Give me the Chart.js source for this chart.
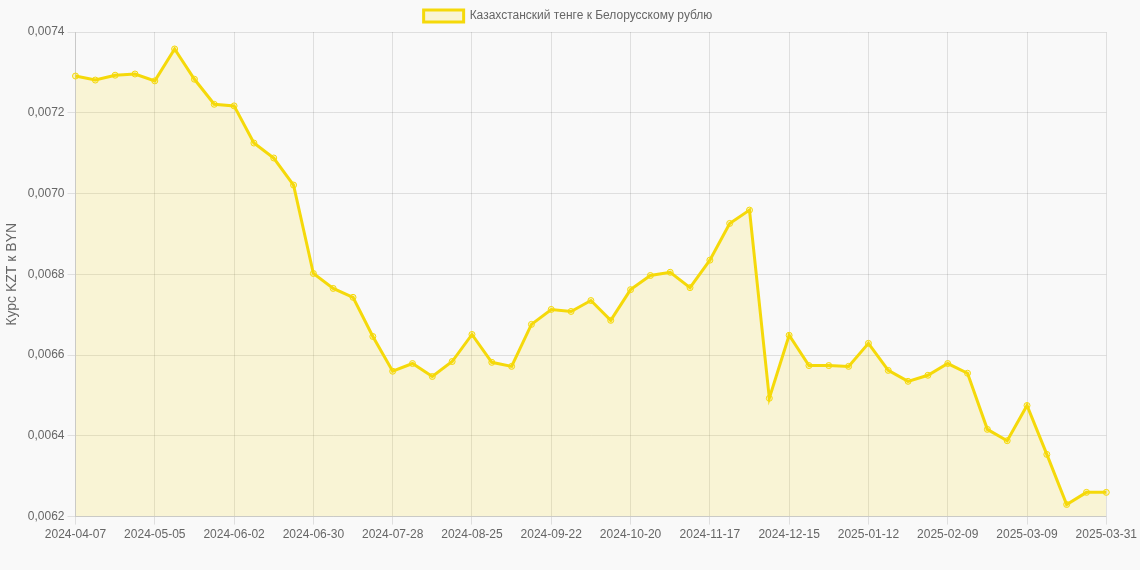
<!DOCTYPE html>
<html><head><meta charset="utf-8">
<script src="https://cdn.jsdelivr.net/npm/chart.js@4"></script>
<style>html,body{margin:0;background:#f9f9f9;}#w{width:1140px;height:570px;}</style>
</head><body><div id="w"><canvas id="c"></canvas></div>
<script>
const labels = ["2024-04-07","2024-04-14","2024-04-21","2024-04-28","2024-05-05","2024-05-12","2024-05-19","2024-05-26","2024-06-02","2024-06-09","2024-06-16","2024-06-23","2024-06-30","2024-07-07","2024-07-14","2024-07-21","2024-07-28","2024-08-04","2024-08-11","2024-08-18","2024-08-25","2024-09-01","2024-09-08","2024-09-15","2024-09-22","2024-09-29","2024-10-06","2024-10-13","2024-10-20","2024-10-27","2024-11-03","2024-11-10","2024-11-17","2024-11-24","2024-12-01","2024-12-08","2024-12-15","2024-12-22","2024-12-29","2025-01-05","2025-01-12","2025-01-19","2025-01-26","2025-02-02","2025-02-09","2025-02-16","2025-02-23","2025-03-02","2025-03-09","2025-03-16","2025-03-23","2025-03-30","2025-03-31"];
const rates = [0.007291,0.007281,0.007293,0.007296,0.007279,0.007358,0.007283,0.007221,0.007217,0.007125,0.007088,0.007021,0.006802,0.006765,0.006743,0.006646,0.006560,0.006579,0.006547,0.006584,0.006651,0.006582,0.006572,0.006676,0.006713,0.006708,0.006735,0.006686,0.006762,0.006797,0.006805,0.006767,0.006835,0.006926,0.006959,0.006493,0.006649,0.006574,0.006574,0.006572,0.006629,0.006562,0.006535,0.006550,0.006579,0.006555,0.006416,0.006388,0.006475,0.006354,0.006230,0.006260,0.006260];
const seriesName = "Казахстанский тенге к Белорусскому рублю";
const yTitle = "Курс KZT к BYN";
Chart.defaults.font.family = "Arial, 'Liberation Sans', sans-serif";
Chart.defaults.color = "#666";
new Chart(document.getElementById('c'), {
  type: 'line',
  data: { labels, datasets: [{
    label: seriesName, data: rates,
    borderColor: '#f5d90a', backgroundColor: 'rgba(245,217,10,0.15)',
    borderWidth: 3, fill: true, tension: 0,
    pointRadius: 3, pointBorderWidth: 1, pointBackgroundColor: 'rgba(245,217,10,0.2)', pointBorderColor: '#f5d90a'
  }]},
  options: {
    responsive: true, maintainAspectRatio: false, animation: false,
    layout: { padding: { right: 4, bottom: 25 } },
    plugins: { legend: { labels: { boxWidth: 40, boxHeight: 12 } } },
    scales: {
      x: { ticks: { autoSkip: false, maxRotation: 0, callback: function(v, i){ return i % 4 === 0 ? labels[i] : null; } }, grid: { color: 'rgba(0,0,0,0.1)' } },
      y: { min: 0.0062, max: 0.0074, title: { display: true, text: yTitle, font: { size: 14 } },
           ticks: { stepSize: 0.0002, callback: v => v.toFixed(4).replace('.', ',') }, grid: { color: 'rgba(0,0,0,0.1)' } }
    }
  }
});
</script></body></html>
